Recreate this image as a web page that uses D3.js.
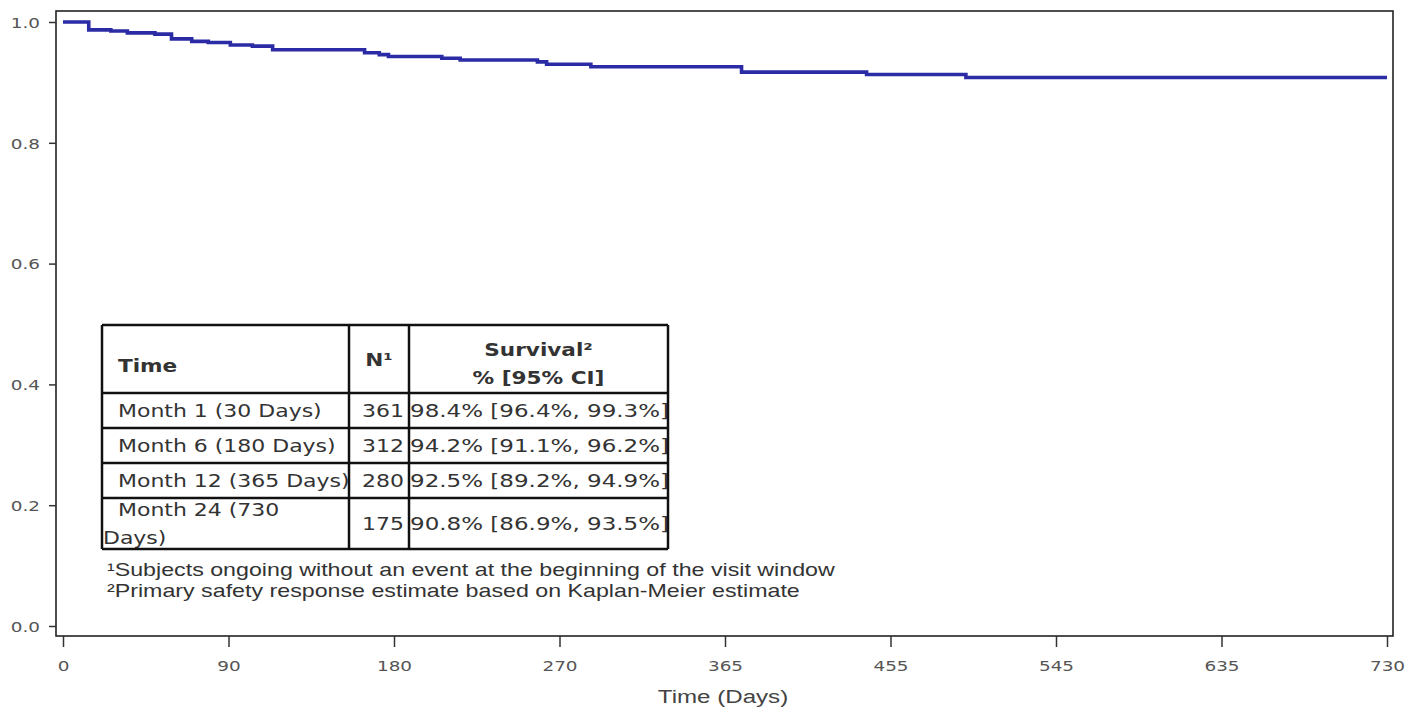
<!DOCTYPE html>
<html>
<head>
<meta charset="utf-8">
<script src="https://cdn.jsdelivr.net/npm/d3@7"></script>
<style>
  body { margin: 0; background: #fff; }
  svg { display: block; }
</style>
</head>
<body>
<svg width="1408" height="720"></svg>
<script>
// Kaplan-Meier step curve
const kmDays = [0, 14, 26, 35, 50, 59, 70, 79, 91, 103, 114, 164, 172, 177, 206, 216, 258, 263, 288, 374, 442, 496, 730];
const kmSurv = [1.000, 0.987, 0.985, 0.982, 0.980, 0.972, 0.968, 0.966, 0.962, 0.960, 0.954, 0.949, 0.946, 0.943, 0.940, 0.937, 0.934, 0.930, 0.926, 0.917, 0.913, 0.908, 0.908];

const xTicks = [0, 90, 180, 270, 365, 455, 545, 635, 730];
const yTicks = [0.0, 0.2, 0.4, 0.6, 0.8, 1.0];

const tableTime = [["Month 1 (30 Days)"], ["Month 6 (180 Days)"], ["Month 12 (365 Days)"], ["Month 24 (730", "Days)"]];
const tableN = [361, 312, 280, 175];
const tableSurv = ["98.4% [96.4%, 99.3%]", "94.2% [91.1%, 96.2%]", "92.5% [89.2%, 94.9%]", "90.8% [86.9%, 93.5%]"];
const footnotes = ["\u00B9Subjects ongoing without an event at the beginning of the visit window",
                   "\u00B2Primary safety response estimate based on Kaplan-Meier estimate"];

const SX = 1.27; // the picture is stretched sideways
let svg = d3.select('svg');

let frame = { left: 56, right: 1393, top: 11, bottom: 636 };

// ticks sit at equal steps in the picture
let x0 = 63, x1 = 1387;
let x = d3.scaleLinear()
    .domain(xTicks)
    .range(xTicks.map((d, i) => x0 + i * (x1 - x0) / (xTicks.length - 1)));
let y = d3.scaleLinear().domain([0, 1]).range([626, 22]);

let stretchText = (sel, px, py, sx = SX) => sel.attr('transform', `translate(${px},${py}) scale(${sx},1)`);

// frame
svg.append('rect')
    .attr('x', frame.left).attr('y', frame.top)
    .attr('width', frame.right - frame.left).attr('height', frame.bottom - frame.top)
    .attr('fill', 'none').attr('stroke', '#222').attr('stroke-width', 1.6);

// y axis
let gy = svg.append('g').attr('transform', `translate(${frame.left},0)`)
    .call(d3.axisLeft(y).tickValues(yTicks).tickSize(7).tickFormat(d3.format('.1f')));
gy.select('.domain').remove();
gy.selectAll('line').attr('stroke', '#333').attr('stroke-width', 1.5);
gy.selectAll('text')
    .attr('x', 0).attr('dy', '0.36em')
    .attr('transform', `translate(-16,0) scale(${SX},1)`)
    .attr('font-family', 'DejaVu Sans, sans-serif').attr('font-size', 14.5).attr('fill', '#555');

// x axis
let gx = svg.append('g').attr('transform', `translate(0,${frame.bottom})`)
    .call(d3.axisBottom(x).tickValues(xTicks).tickSize(11).tickFormat(d3.format('d')));
gx.select('.domain').remove();
gx.selectAll('line').attr('stroke', '#333').attr('stroke-width', 1.5);
gx.selectAll('text')
    .attr('y', 0).attr('dy', 0)
    .attr('transform', `translate(0,35) scale(${SX},1)`)
    .attr('font-family', 'DejaVu Sans, sans-serif').attr('font-size', 14.5).attr('fill', '#555');

stretchText(svg.append('text'), 723, 703)
    .attr('text-anchor', 'middle')
    .attr('font-family', 'Liberation Sans, Arial, sans-serif').attr('font-size', 19).attr('fill', '#444')
    .text('Time (Days)');

// survival curve
let line = d3.line()
    .x((d, i) => x(kmDays[i]))
    .y(d => y(d))
    .curve(d3.curveStepAfter);
svg.append('path')
    .datum(kmSurv)
    .attr('d', line)
    .attr('fill', 'none')
    .attr('stroke', '#2b2ba6')
    .attr('stroke-width', 3.6);

// table
let tb = { left: 102, c1: 349, c2: 409, right: 668, top: 325, head: 393, row: 35, bottom: 549 };
let rowTops = tableN.map((d, i) => tb.head + i * tb.row);
let tableFont = 'DejaVu Sans, Verdana, sans-serif';
let g = svg.append('g');
g.append('rect').attr('x', tb.left).attr('y', tb.top)
    .attr('width', tb.right - tb.left).attr('height', tb.bottom - tb.top)
    .attr('fill', '#fff');

let head = [
    { t: 'Time', x: tb.left + 16, y: 372, a: 'start' },
    { t: 'N\u00B9', x: (tb.c1 + tb.c2) / 2, y: 366, a: 'middle' },
    { t: 'Survival\u00B2', x: (tb.c2 + tb.right) / 2, y: 356, a: 'middle' },
    { t: '% [95% CI]', x: (tb.c2 + tb.right) / 2, y: 384, a: 'middle' }
];
head.forEach(h => {
    stretchText(g.append('text'), h.x, h.y)
        .attr('text-anchor', h.a).attr('font-family', tableFont).attr('font-size', 17)
        .attr('font-weight', 'bold').attr('fill', '#333').text(h.t);
});

tableN.forEach((n, i) => {
    let top = rowTops[i];
    let bot = i === tableN.length - 1 ? tb.bottom : top + tb.row;
    let lines = tableTime[i];
    let mid = (top + bot) / 2;
    let lh = 28;
    lines.forEach((t, j) => {
        let ly = mid + (j - (lines.length - 1) / 2) * lh + 6;
        stretchText(g.append('text'), j === 0 ? tb.left + 16 : tb.left + 1, ly)
            .attr('font-family', tableFont).attr('font-size', 17.3).attr('fill', '#333').text(t);
    });
    stretchText(g.append('text'), tb.c2 - 5, mid + 6)
        .attr('text-anchor', 'end').attr('font-family', tableFont).attr('font-size', 17.3).attr('fill', '#333').text(n);
    stretchText(g.append('text'), tb.c2 + 1, mid + 6, 1.33)
        .attr('font-family', tableFont).attr('font-size', 17.3).attr('fill', '#333').text(tableSurv[i]);
});

// table rules
let hLines = [tb.top, tb.head].concat(rowTops.slice(1), [tb.bottom]);
g.selectAll('line.h').data(hLines).enter().append('line')
    .attr('x1', tb.left).attr('x2', tb.right)
    .attr('y1', d => d).attr('y2', d => d)
    .attr('stroke', '#111').attr('stroke-width', 2.5);
g.selectAll('line.v').data([tb.left, tb.c1, tb.c2, tb.right]).enter().append('line')
    .attr('x1', d => d).attr('x2', d => d)
    .attr('y1', tb.top).attr('y2', tb.bottom)
    .attr('stroke', '#111').attr('stroke-width', 2.5);

// footnotes
footnotes.forEach((t, i) => {
    stretchText(svg.append('text'), 107, 576 + i * 21, 1.29)
        .attr('font-family', 'Liberation Sans, Arial, sans-serif').attr('font-size', 18).attr('fill', '#333')
        .text(t);
});
</script>
</body>
</html>
